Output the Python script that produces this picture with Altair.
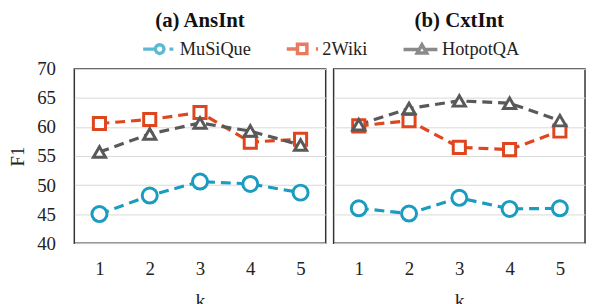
import altair as alt
import pandas as pd

k_values = [1, 2, 3, 4, 5]
series_names = ["MuSiQue", "2Wiki", "HotpotQA"]
series_colors = ["#1A9CC0", "#E0461E", "#595959"]
series_shapes = ["circle", "square", "triangle-up"]
series_sizes = [230, 150, 150]

ans_musique = [45.0, 48.2, 50.6, 50.2, 48.7]
ans_2wiki = [60.6, 61.3, 62.5, 57.4, 57.9]
ans_hotpot = [55.7, 58.8, 60.7, 59.3, 56.9]

cxt_musique = [46.0, 45.1, 47.8, 45.9, 46.0]
cxt_2wiki = [60.2, 61.1, 56.5, 56.1, 59.3]
cxt_hotpot = [60.4, 63.2, 64.5, 64.1, 61.1]

y_ticks = [40, 45, 50, 55, 60, 65, 70]

legend_paths = [
    "M-3.85,0L-1,0M1,0A1,1 0 1,1 -1,0A1,1 0 1,1 1,0M2.3,0L3.2,0",
    "M-3.6,0L-1.1,0M-1.1,-1.1L1.1,-1.1L1.1,1.1L-1.1,1.1ZM3.2,0L3.7,0",
    "M-4.3,0L-0.6,0M0,-1.1L1.1,0.8L-1.1,0.8ZM0.6,0L3.6,0",
]


def build(panel_vals):
    rows = []
    for name, vals in zip(series_names, panel_vals):
        for k, v in zip(k_values, vals):
            rows.append({"series": name, "k": k, "F1": v})
    return pd.DataFrame(rows)


df_a = build([ans_musique, ans_2wiki, ans_hotpot])
df_b = build([cxt_musique, cxt_2wiki, cxt_hotpot])

FONT = "Times New Roman, Liberation Serif, serif"
color_scale = alt.Scale(domain=series_names, range=series_colors)

x_enc = alt.X(
    "k:O",
    scale=alt.Scale(type="point", padding=0.5),
    axis=alt.Axis(labelAngle=0, ticks=False, domain=False, labelPadding=17,
                  labelFont=FONT, labelFontSize=19, labelColor="#222",
                  title="k", titleFont=FONT, titleFontSize=20, titleFontWeight="normal",
                  titleColor="#222", titlePadding=12),
)


def y_enc(show):
    if show:
        axis = alt.Axis(values=y_ticks, ticks=False, domain=False, labelPadding=19,
                        labelFont=FONT, labelFontSize=19, labelColor="#222",
                        gridColor="#D9D9D9", gridWidth=1,
                        title="F1", titleFont=FONT, titleFontSize=19,
                        titleFontWeight="normal", titleColor="#222", titlePadding=9)
    else:
        axis = alt.Axis(values=y_ticks, ticks=False, domain=False, labels=False,
                        gridColor="#D9D9D9", gridWidth=1, title=None)
    return alt.Y("F1:Q", scale=alt.Scale(domain=[40, 70], nice=False, zero=False), axis=axis)


legend_def = alt.Legend(
    title=None, orient="none", direction="horizontal", legendX=77, legendY=-30,
    labelFont=FONT, labelFontSize=18.5, labelColor="#222",
    symbolStrokeWidth=3.5, symbolSize=75, labelOffset=11, columnPadding=28,
    symbolFillColor="white", padding=0,
)


def panel(df, title, show_y, with_legend, title_offset):
    base = alt.Chart(df)
    layers = []
    if with_legend:
        leg = base.transform_filter("false").mark_point(filled=False, strokeWidth=3.5).encode(
            x=x_enc, y=y_enc(show_y),
            color=alt.Color("series:N", scale=color_scale, legend=legend_def),
            shape=alt.Shape("series:N", scale=alt.Scale(domain=series_names, range=legend_paths),
                            legend=legend_def),
        )
        layers.append(leg)
    line = base.mark_line(strokeWidth=3.2, strokeDash=[10, 6]).encode(
        x=x_enc, y=y_enc(show_y),
        color=alt.Color("series:N", scale=color_scale),
        detail="series:N",
    )
    layers.append(line)
    for name, shp, sz in zip(series_names, series_shapes, series_sizes):
        pts = base.transform_filter(alt.datum.series == name).mark_point(
            shape=shp, size=sz, filled=False, fill="white", fillOpacity=1,
            strokeWidth=3, opacity=1,
        ).encode(
            x=x_enc, y=y_enc(show_y),
            color=alt.Color("series:N", scale=color_scale),
        )
        layers.append(pts)
    return alt.layer(*layers).properties(
        width=254, height=176,
        title=alt.TitleParams(title, font=FONT, fontSize=21, fontWeight="bold",
                              color="#111", offset=title_offset, anchor="middle"),
    )


chart = alt.hconcat(
    panel(df_a, "(a) AnsInt", True, True, 29),
    panel(df_b, "(b) CxtInt", False, False, 38),
    spacing=6,
).configure_view(stroke="#333", strokeWidth=1.5).properties(padding=0, background="white")

chart.save("out.html", embed_options={"renderer": "svg", "actions": False})
